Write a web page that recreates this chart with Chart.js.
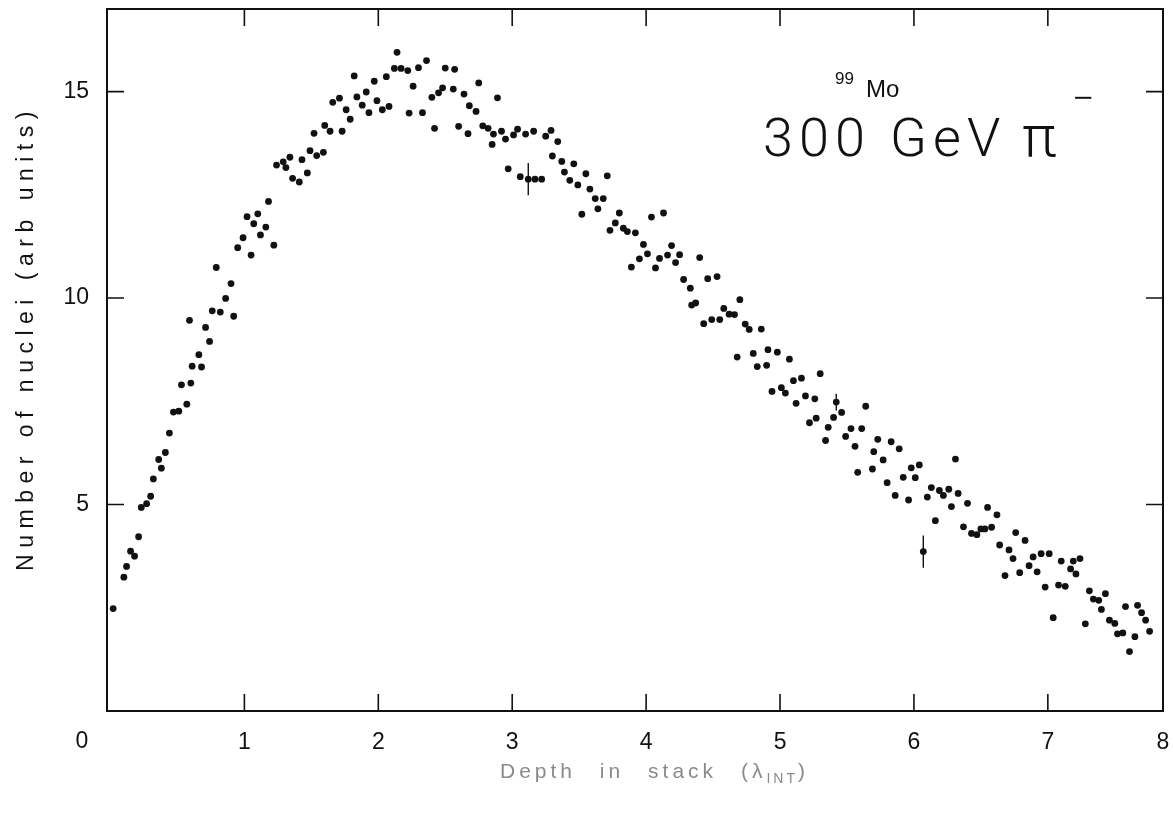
<!DOCTYPE html>
<html>
<head>
<meta charset="utf-8">
<title>99Mo – 300 GeV π− : number of nuclei vs depth in stack</title>
<script src="https://cdn.jsdelivr.net/npm/chart.js@4.4.1/dist/chart.umd.min.js"></script>
<style>
  html, body { margin: 0; padding: 0; background: #fff; }
  canvas { display: block; }
</style>
</head>
<body>
<canvas id="depthChart" width="1173" height="815"></canvas>
<script>
// depth in stack (interaction lengths) and number of nuclei (arb units)
const depth = [
  0.02, 0.10, 0.12, 0.15, 0.18, 0.21, 0.23, 0.27, 0.30, 0.32, 0.36, 0.38, 0.41, 0.44, 0.47, 0.51,
  0.53, 0.57, 0.59, 0.60, 0.61, 0.66, 0.68, 0.71, 0.74, 0.76, 0.79, 0.82, 0.86, 0.90, 0.92, 0.95,
  0.99, 1.02, 1.05, 1.07, 1.10, 1.12, 1.16, 1.18, 1.22, 1.24, 1.29, 1.31, 1.34, 1.36, 1.41, 1.43,
  1.47, 1.49, 1.52, 1.54, 1.59, 1.60, 1.64, 1.66, 1.71, 1.73, 1.76, 1.79, 1.82, 1.84, 1.88, 1.91,
  1.93, 1.97, 1.99, 2.03, 2.06, 2.08, 2.12, 2.14, 2.17, 2.22, 2.23, 2.26, 2.30, 2.33, 2.36, 2.40,
  2.42, 2.45, 2.48, 2.50, 2.56, 2.57, 2.60, 2.64, 2.67, 2.68, 2.73, 2.75, 2.78, 2.82, 2.85, 2.86,
  2.89, 2.92, 2.95, 2.97, 3.01, 3.04, 3.06, 3.10, 3.12, 3.16, 3.17, 3.22, 3.25, 3.29, 3.30, 3.34,
  3.37, 3.39, 3.43, 3.46, 3.49, 3.52, 3.55, 3.58, 3.62, 3.64, 3.68, 3.71, 3.73, 3.77, 3.80, 3.83,
  3.86, 3.89, 3.92, 3.95, 3.98, 4.01, 4.04, 4.07, 4.10, 4.13, 4.16, 4.19, 4.22, 4.25, 4.28, 4.33,
  4.34, 4.37, 4.40, 4.43, 4.46, 4.49, 4.53, 4.55, 4.58, 4.62, 4.66, 4.68, 4.70, 4.74, 4.77, 4.80,
  4.83, 4.86, 4.90, 4.91, 4.94, 4.98, 5.01, 5.04, 5.07, 5.10, 5.12, 5.16, 5.19, 5.22, 5.26, 5.27,
  5.30, 5.34, 5.36, 5.40, 5.42, 5.46, 5.49, 5.53, 5.56, 5.58, 5.61, 5.64, 5.69, 5.70, 5.73, 5.77,
  5.80, 5.83, 5.86, 5.89, 5.92, 5.96, 5.98, 6.01, 6.04, 6.07, 6.10, 6.13, 6.16, 6.19, 6.22, 6.26,
  6.28, 6.31, 6.33, 6.37, 6.40, 6.43, 6.47, 6.50, 6.53, 6.55, 6.58, 6.62, 6.64, 6.68, 6.71, 6.74,
  6.76, 6.79, 6.83, 6.86, 6.89, 6.92, 6.95, 6.98, 7.01, 7.04, 7.08, 7.10, 7.13, 7.17, 7.19, 7.21,
  7.24, 7.28, 7.31, 7.34, 7.38, 7.40, 7.43, 7.46, 7.50, 7.52, 7.56, 7.58, 7.61, 7.65, 7.67, 7.70,
  7.73, 7.76
];
const nuclei = [
  2.48, 3.24, 3.50, 3.87, 3.75, 4.22, 4.93, 5.02, 5.20, 5.62, 6.09, 5.88, 6.26, 6.73, 7.24, 7.26,
  7.90, 7.43, 9.46, 7.94, 8.35, 8.63, 8.33, 9.29, 8.95, 9.69, 10.74, 9.66, 9.99, 10.35, 9.56, 11.22,
  11.46, 11.97, 11.04, 11.80, 12.04, 11.53, 11.72, 12.34, 11.28, 13.22, 13.30, 13.16, 13.41, 12.90, 12.81, 13.35,
  13.03, 13.57, 13.99, 13.45, 13.53, 14.18, 14.04, 14.74, 14.84, 14.04, 14.56, 14.33, 15.38, 14.87, 14.67, 14.99,
  14.49, 15.25, 14.78, 14.56, 15.36, 14.64, 15.56, 15.95, 15.56, 15.51, 14.48, 15.13, 15.58, 14.49, 15.75, 14.86,
  14.11, 14.97, 15.09, 15.57, 15.06, 15.54, 14.16, 14.94, 13.98, 14.66, 14.52, 15.21, 14.17, 14.11, 13.72, 13.97,
  14.85, 14.04, 13.85, 13.13, 13.95, 14.09, 12.94, 13.97, 12.88, 14.04, 12.88, 12.88, 13.92, 14.06, 13.44, 13.79,
  13.31, 13.05, 12.85, 13.25, 12.74, 12.03, 13.01, 12.64, 12.41, 12.16, 12.41, 12.96, 11.64, 11.82, 12.06, 11.69,
  11.61, 10.75, 11.58, 10.95, 11.30, 11.07, 11.96, 10.73, 10.96, 12.06, 11.04, 11.27, 10.86, 11.05, 10.45, 10.24,
  9.83, 9.88, 10.98, 9.38, 10.47, 9.48, 10.52, 9.48, 9.75, 9.61, 9.60, 8.57, 9.96, 9.37, 9.24, 8.66,
  8.34, 9.25, 8.37, 8.75, 7.74, 8.69, 7.83, 7.70, 8.52, 8.00, 7.45, 8.06, 7.63, 6.98, 7.56, 7.09,
  8.17, 6.55, 6.87, 7.11, 7.48, 7.23, 6.65, 6.84, 6.41, 5.78, 6.84, 7.38, 5.86, 6.28, 6.58, 6.08,
  5.53, 6.52, 5.22, 6.35, 5.66, 5.11, 5.89, 5.65, 5.96, 3.86, 5.18, 5.41, 4.61, 5.34, 5.22, 5.37,
  4.95, 6.10, 5.27, 4.46, 5.03, 4.30, 4.27, 4.41, 4.41, 4.93, 4.45, 4.75, 4.02, 3.28, 3.90, 3.69,
  4.32, 3.35, 4.13, 3.52, 3.73, 3.37, 3.81, 3.00, 3.81, 2.26, 3.05, 3.63, 3.02, 3.44, 3.63, 3.32,
  3.69, 2.11, 2.91, 2.71, 2.68, 2.46, 2.84, 2.20, 2.12, 1.87, 1.89, 2.53, 1.44, 1.80, 2.56, 2.38,
  2.20, 1.93
];

// the three points drawn with error bars
const errDepth = [3.12, 5.42, 6.07];
const errValue = [12.88, 7.48, 3.86];
const errSize = [0.39, 0.2, 0.39];

const xTickValues = [1, 2, 3, 4, 5, 6, 7];
const yTickValues = [5, 10, 15];
const xMin = -0.026;
const xMax = 7.86;
const yMin = 0;
const yMax = 17;

const INK = '#111';
const TICK_FONT = '23px "Liberation Sans", Arial, sans-serif';

/**
 * Box round the plot with short ticks pointing inwards on all four sides,
 * plus the vertical error bars.
 */
const frameTicks = {
  id: 'frameTicks',
  afterDatasetsDraw(chart) {
    const { ctx, chartArea: a, scales: { x, y } } = chart;
    const len = 17;
    ctx.save();
    ctx.strokeStyle = INK;
    ctx.lineWidth = 2;
    ctx.strokeRect(a.left, a.top, a.right - a.left, a.bottom - a.top);

    ctx.lineWidth = 1.6;
    ctx.beginPath();
    xTickValues.forEach(v => {
      const px = x.getPixelForValue(v);
      ctx.moveTo(px, a.bottom); ctx.lineTo(px, a.bottom - len);
      ctx.moveTo(px, a.top); ctx.lineTo(px, a.top + len);
    });
    yTickValues.forEach(v => {
      const py = y.getPixelForValue(v);
      ctx.moveTo(a.left, py); ctx.lineTo(a.left + len, py);
      ctx.moveTo(a.right, py); ctx.lineTo(a.right - len, py);
    });
    ctx.stroke();

    // error bars
    ctx.lineWidth = 1.4;
    ctx.beginPath();
    errDepth.forEach((d, i) => {
      const px = x.getPixelForValue(d);
      ctx.moveTo(px, y.getPixelForValue(errValue[i] - errSize[i]));
      ctx.lineTo(px, y.getPixelForValue(errValue[i] + errSize[i]));
    });
    ctx.stroke();
    ctx.restore();
  }
};

/**
 * Axis titles (spaced-out plotter lettering), the corner "0" and the annotation.
 */
const plotText = {
  id: 'plotText',
  afterDraw(chart) {
    const { ctx, chartArea: a } = chart;
    ctx.save();
    ctx.fillStyle = INK;

    // corner zero, shared by both axes
    ctx.font = TICK_FONT;
    ctx.textAlign = 'center';
    ctx.textBaseline = 'middle';
    ctx.fillText('0', a.left - 25, a.bottom + 31);

    // y axis title, reading upwards
    ctx.save();
    ctx.translate(a.left - 74, 338);
    ctx.rotate(-Math.PI / 2);
    ctx.font = '23px "Liberation Sans", Arial, sans-serif';
    ctx.letterSpacing = '6.5px';
    ctx.textAlign = 'center';
    ctx.textBaseline = 'alphabetic';
    ctx.fillText('Number of nuclei (arb units)', 0, 0);
    ctx.restore();

    // x axis title, faint in the original
    ctx.fillStyle = '#8a8a8a';
    ctx.font = '21px "Liberation Sans", Arial, sans-serif';
    ctx.letterSpacing = '4px';
    ctx.wordSpacing = '14px';
    ctx.textAlign = 'left';
    ctx.textBaseline = 'alphabetic';
    const main = 'Depth in stack (λ';
    ctx.fillText(main, 500, 778);
    let cx = 500 + ctx.measureText(main).width;
    ctx.font = '14px "Liberation Sans", Arial, sans-serif';
    ctx.letterSpacing = '3px';
    ctx.fillText('INT', cx, 783);
    cx += ctx.measureText('INT').width;
    ctx.font = '21px "Liberation Sans", Arial, sans-serif';
    ctx.fillText(')', cx, 778);
    ctx.wordSpacing = '0px';

    // isotope and beam annotation
    ctx.fillStyle = INK;
    ctx.letterSpacing = '0px';
    ctx.font = '17px "Liberation Sans", Arial, sans-serif';
    ctx.fillText('99', 835, 84);
    ctx.font = '24px "Liberation Sans", Arial, sans-serif';
    ctx.fillText('Mo', 866, 97);

    ctx.font = '300 54px Roboto, "Open Sans", sans-serif';
    ctx.letterSpacing = '6px';
    ctx.fillText('300 GeV', 763, 156);
    ctx.letterSpacing = '0px';
    ctx.font = '300 58px Roboto, "Open Sans", sans-serif';
    ctx.fillText('π', 1022, 156);
    ctx.font = '300 40px Roboto, "Open Sans", sans-serif';
    ctx.fillText('−', 1072, 112);
    ctx.restore();
  }
};

function initDepthChart() {
  const ctx = document.getElementById('depthChart');
  if (!ctx) return;

  new Chart(ctx, {
    type: 'scatter',
    data: {
      datasets: [{
        label: '99Mo',
        data: depth.map((d, i) => ({ x: d, y: nuclei[i] })),
        pointRadius: 3.4,
        pointHoverRadius: 3.4,
        backgroundColor: INK,
        borderWidth: 0
      }]
    },
    options: {
      responsive: false,
      devicePixelRatio: 1,
      animation: false,
      layout: { padding: { top: 9, right: 10, left: 0, bottom: 0 } },
      plugins: {
        legend: { display: false },
        tooltip: { enabled: false }
      },
      scales: {
        x: {
          type: 'linear',
          min: xMin,
          max: xMax,
          grid: { display: false, drawTicks: false },
          border: { display: false },
          afterBuildTicks: scale => {
            scale.ticks = xTickValues.map(v => ({ value: v })).concat({ value: xMax });
          },
          afterFit: scale => {
            scale.height = 104;
            scale.paddingLeft = 0;
            scale.paddingRight = 0;
          },
          ticks: {
            autoSkip: false,
            maxRotation: 0,
            padding: 18,
            color: INK,
            font: { family: '"Liberation Sans", Arial, sans-serif', size: 23 },
            // the right-hand edge of the frame carries the label 8
            callback: v => (v === xMax ? '8' : String(v))
          }
        },
        y: {
          type: 'linear',
          min: yMin,
          max: yMax,
          grid: { display: false, drawTicks: false },
          border: { display: false },
          afterBuildTicks: scale => {
            scale.ticks = yTickValues.map(v => ({ value: v }));
          },
          afterFit: scale => {
            scale.width = 107;
            scale.paddingTop = 0;
            scale.paddingBottom = 0;
          },
          ticks: {
            padding: 18,
            color: INK,
            font: { family: '"Liberation Sans", Arial, sans-serif', size: 23 }
          }
        }
      }
    },
    plugins: [frameTicks, plotText]
  });
}

document.addEventListener('DOMContentLoaded', initDepthChart);
</script>
</body>
</html>
